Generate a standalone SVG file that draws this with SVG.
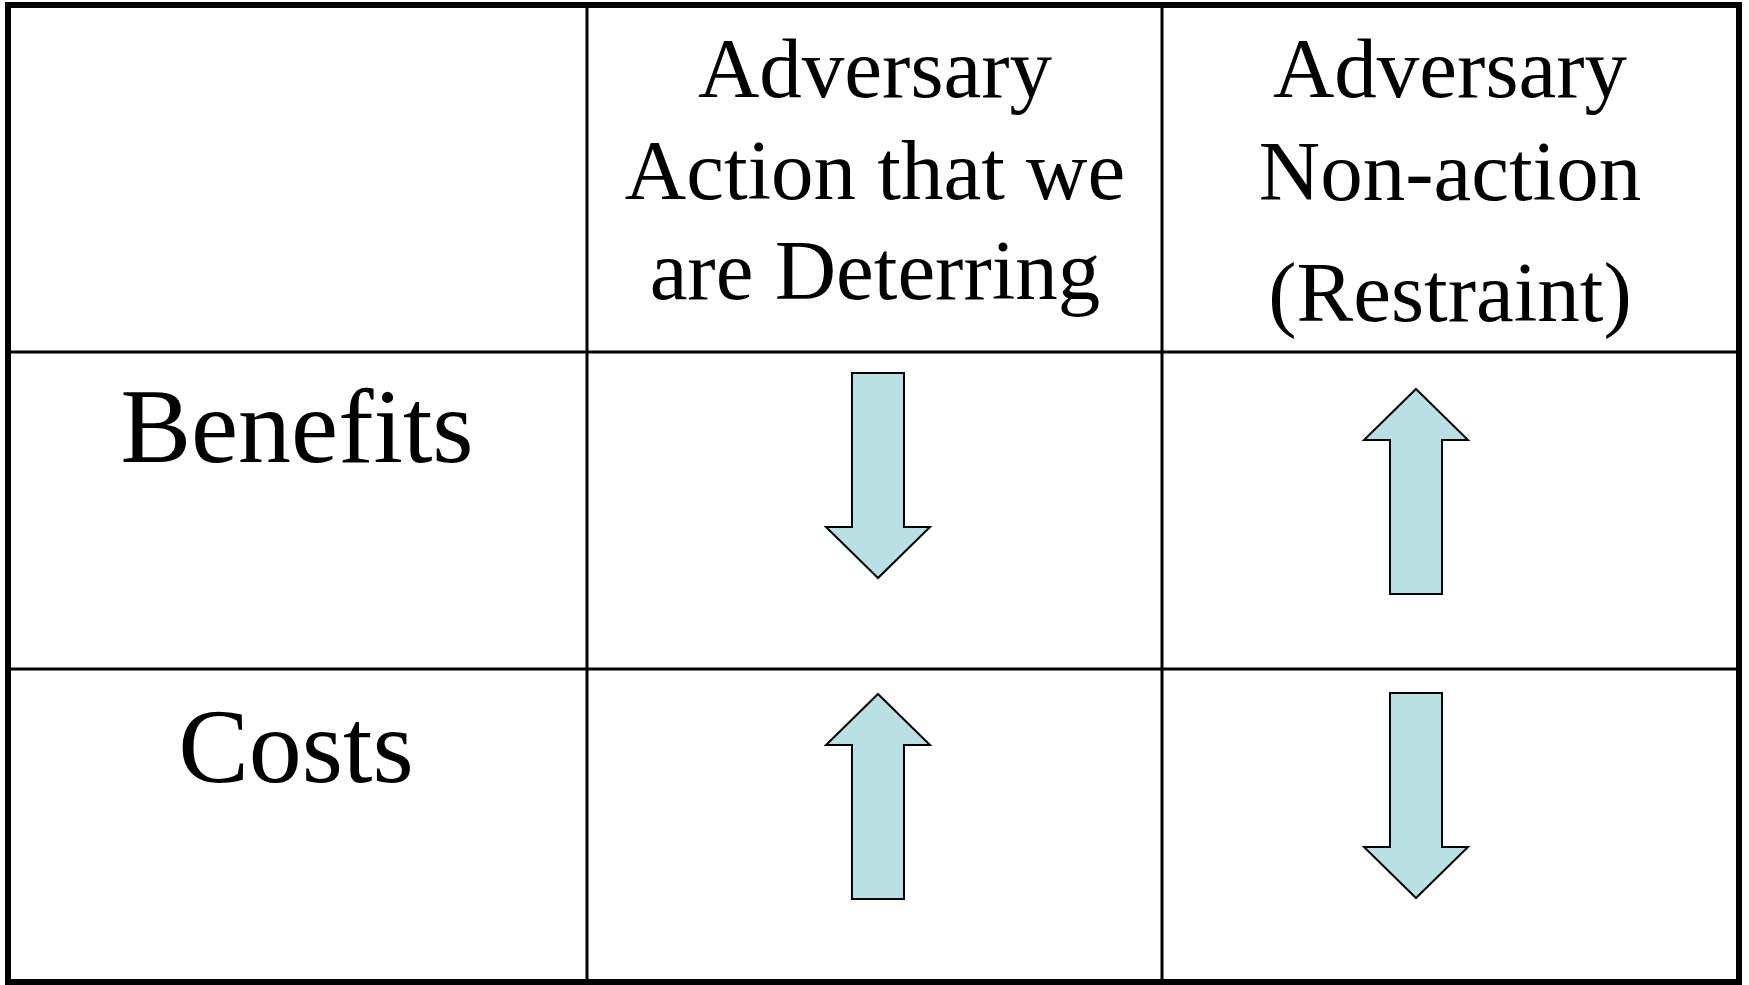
<svg xmlns="http://www.w3.org/2000/svg" width="1749" height="985" viewBox="0 0 1749 985">
  <style>
    .grid { stroke: #000; stroke-width: 3; fill: none; }
    .frame { stroke: #000; stroke-width: 6; fill: none; }
    .hdr { font-family: "Liberation Serif", "Times New Roman", serif; font-size: 85px; fill: #000; text-anchor: middle; }
    .lbl { font-family: "Liberation Serif", "Times New Roman", serif; font-size: 106px; fill: #000; text-anchor: middle; }
    .arrow { fill: #BBE0E3; stroke: #000; stroke-width: 2; stroke-linejoin: miter; }
  </style>
  <defs>
    <!-- block arrow pointing up, tip at the origin -->
    <polygon id="upArrow" class="arrow" points="0,0 52,51 26,51 26,205 -26,205 -26,51 -52,51"/>
  </defs>

  <rect width="1749" height="985" fill="#fff"/>

  <!-- table grid -->
  <g id="table">
    <rect class="frame" x="8" y="5" width="1731" height="977"/>
    <line class="grid" x1="587" y1="5" x2="587" y2="982"/>
    <line class="grid" x1="1162" y1="5" x2="1162" y2="982"/>
    <line class="grid" x1="8" y1="352" x2="1739" y2="352"/>
    <line class="grid" x1="8" y1="669" x2="1739" y2="669"/>
  </g>

  <!-- column headers -->
  <g id="header-action">
    <text class="hdr" x="875" y="97">Adversary</text>
    <text class="hdr" x="875" y="199">Action that we</text>
    <text class="hdr" x="875" y="299">are Deterring</text>
  </g>
  <g id="header-restraint">
    <text class="hdr" x="1450" y="97">Adversary</text>
    <text class="hdr" x="1450" y="200">Non-action</text>
    <text class="hdr" x="1450" y="321">(Restraint)</text>
  </g>

  <!-- row labels -->
  <g id="row-benefits">
    <text class="lbl" x="297" y="462">Benefits</text>
  </g>
  <g id="row-costs">
    <text class="lbl" x="296" y="782">Costs</text>
  </g>

  <!-- trend arrows -->
  <g id="benefits-action">
    <use href="#upArrow" transform="translate(878,578) rotate(180)"/>
  </g>
  <g id="benefits-restraint">
    <use href="#upArrow" transform="translate(1416,389)"/>
  </g>
  <g id="costs-action">
    <use href="#upArrow" transform="translate(878,694)"/>
  </g>
  <g id="costs-restraint">
    <use href="#upArrow" transform="translate(1416,898) rotate(180)"/>
  </g>
</svg>
